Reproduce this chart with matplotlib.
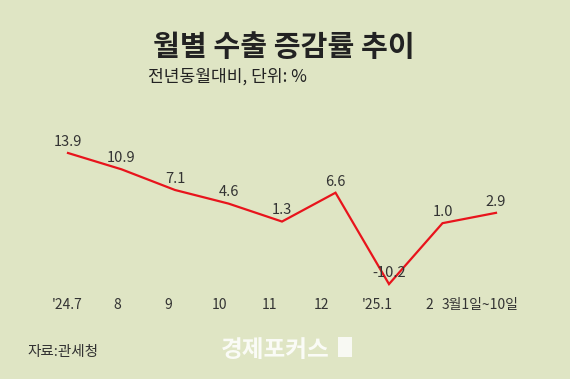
import matplotlib
matplotlib.use("Agg")
import matplotlib.pyplot as plt

plt.rcParams['font.family'] = ['Noto Sans CJK KR', 'DejaVu Sans']

categories = ["'24.7", "8", "9", "10", "11", "12", "'25.1", "2", "3월1일~10일"]
values = [13.9, 10.9, 7.1, 4.6, 1.3, 6.6, -10.2, 1.0, 2.9]
value_labels = ["13.9", "10.9", "7.1", "4.6", "1.3", "6.6", "-10.2", "1.0", "2.9"]

bg = '#dfe5c4'
fig = plt.figure(figsize=(5.70, 3.79), dpi=100, facecolor=bg)
ax = fig.add_axes([0, 0, 1, 1])
ax.set_facecolor(bg)

xs = list(range(len(values)))
ax.plot(xs, values, color='#e8141c', linewidth=1.6, solid_joinstyle='miter')

# pixel mapping
ax.set_xlim(-68 / 53.5, (570 - 68) / 53.5)
ax.set_ylim(13.9 - 226 / 5.44, 13.9 + 153 / 5.44)
ax.axis('off')

for x, v, lab in zip(xs, values, value_labels):
    ax.annotate(lab, (x, v), xytext=(0, 3), textcoords='offset points',
                ha='center', va='bottom', fontsize=10.5, color='#333333')

label_y = 13.9 - 152 / 5.44
label_dx = [-0.02, -0.08, -0.12, -0.17, -0.23, -0.26, -0.22, -0.24, -0.3]
for x, c, dx in zip(xs, categories, label_dx):
    ax.text(x + dx, label_y, c, ha='center', va='center', fontsize=10, color='#333333')

fig.text(284 / 570, 1 - 47 / 379, '월별 수출 증감률 추이', ha='center', va='center',
         fontsize=21, fontweight='bold', color='#222222')
fig.text(148 / 570, 1 - 77 / 379, '전년동월대비, 단위: %', ha='left', va='center',
         fontsize=12.3, color='#222222')
fig.text(27 / 570, 1 - 352 / 379, '자료:관세청', ha='left', va='center',
         fontsize=10.5, color='#333333')
fig.text(221 / 570, 1 - 350 / 379, '경제포커스', ha='left', va='center',
         fontsize=17, fontweight='bold', color='white', alpha=0.85)
fig.patches.append(plt.Rectangle((338 / 570, 1 - 357 / 379), 14 / 570, 20 / 379,
                                 transform=fig.transFigure, facecolor='white',
                                 alpha=0.8, edgecolor='none'))

fig.savefig('out.png', dpi=100, facecolor=bg)
